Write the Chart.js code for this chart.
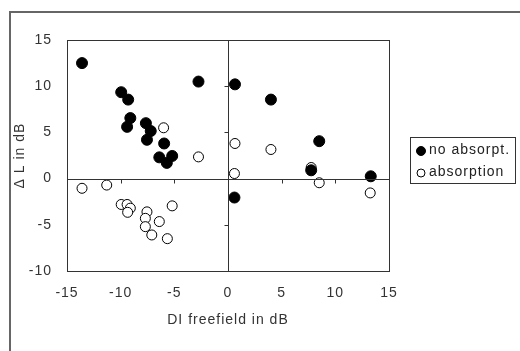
<!DOCTYPE html>
<html>
<head>
<meta charset="utf-8">
<script src="https://cdn.jsdelivr.net/npm/chart.js@4/dist/chart.umd.min.js"></script>
<style>
  html, body { margin: 0; padding: 0; background: #fff; }
  canvas { display: block; }
</style>
</head>
<body>
<canvas id="c" width="520" height="351"></canvas>
<script>
// ---- data ----
const seriesLabels = ["no absorpt.", "absorption"];
const noAbsX = [-13.6, -2.75, -9.95, -9.3, -9.1, -9.4, -7.65, -7.2, -7.55, -5.95, -6.4, -5.7, -5.2, 0.65, 4.0, 8.5, 7.75, 13.3, 0.6];
const noAbsY = [12.5, 10.5, 9.35, 8.55, 6.55, 5.6, 6.0, 5.15, 4.2, 3.8, 2.3, 1.7, 2.45, 10.2, 8.55, 4.05, 0.9, 0.25, -2.05];
const absX = [-6.0, -2.75, 0.65, 0.6, -13.6, -11.3, -9.95, -9.4, -9.1, -9.35, -7.55, -7.7, -7.7, -7.1, -6.4, -5.65, -5.2, 4.0, 7.75, 8.5, 13.25];
const absY = [5.5, 2.35, 3.8, 0.55, -1.05, -0.7, -2.8, -2.8, -3.2, -3.65, -3.6, -4.3, -5.2, -6.1, -4.65, -6.5, -2.95, 3.15, 1.2, -0.45, -1.55];
const xTicks = [-15, -10, -5, 0, 5, 10, 15];
const yTicks = [-10, -5, 0, 5, 10, 15];
const xTitle = "DI freefield in dB";
const yTitle = "\u0394 L in dB";

const FONT = "'Liberation Sans', Arial, sans-serif";
const TEXT = "#333";

function pts(xs, ys) { return xs.map((x, i) => ({ x: x, y: ys[i] })); }

const spacing = {
  id: 'spacing',
  beforeLayout(chart) { chart.ctx.letterSpacing = '1px'; },
  beforeDraw(chart) { chart.ctx.letterSpacing = '1px'; }
};

const frame = {
  id: 'frame',
  afterDraw(chart) {
    const ctx = chart.ctx, a = chart.chartArea;
    const xs = chart.scales.x, ys = chart.scales.y;
    ctx.save();
    // outer chart border
    ctx.strokeStyle = '#666';
    ctx.lineWidth = 2;
    ctx.strokeRect(10, 12, 1000, 1000);
    // plot area border
    ctx.strokeStyle = '#333';
    ctx.lineWidth = 1;
    ctx.strokeRect(Math.round(a.left) + 0.5, Math.round(a.top) + 0.5, Math.round(a.right - a.left), Math.round(a.bottom - a.top));
    // zero axes
    const x0 = Math.round(xs.getPixelForValue(0)) + 0.5;
    const y0 = Math.round(ys.getPixelForValue(0)) + 0.5;
    ctx.beginPath();
    ctx.moveTo(x0, a.top); ctx.lineTo(x0, a.bottom);
    ctx.moveTo(a.left, y0); ctx.lineTo(a.right, y0);
    // tick marks on the zero axes
    xTicks.forEach(v => {
      if (v === 0 || v === xTicks[0] || v === xTicks[xTicks.length - 1]) return;
      const px = Math.round(xs.getPixelForValue(v)) + 0.5;
      ctx.moveTo(px, y0); ctx.lineTo(px, y0 + 4);
    });
    yTicks.forEach(v => {
      if (v === 0 || v === yTicks[0] || v === yTicks[yTicks.length - 1]) return;
      const py = Math.round(ys.getPixelForValue(v)) + 0.5;
      ctx.moveTo(x0, py); ctx.lineTo(x0 - 4, py);
    });
    ctx.stroke();

    // legend box
    const L = 410.5, T = 137.5, W = 105, H = 46;
    ctx.strokeStyle = '#333';
    ctx.strokeRect(L, T, W, H);
    const ds = chart.data.datasets;
    const rows = [151, 173];
    ds.forEach((d, i) => {
      ctx.beginPath();
      ctx.arc(421, rows[i], i === 0 ? 4.5 : 4, 0, Math.PI * 2);
      ctx.fillStyle = d.backgroundColor;
      ctx.fill();
      ctx.lineWidth = 1;
      ctx.strokeStyle = d.borderColor;
      ctx.stroke();
      ctx.fillStyle = '#222';
      ctx.font = "14px " + FONT;
      ctx.textBaseline = 'middle';
      ctx.textAlign = 'left';
      ctx.fillText(d.label, 429, rows[i] - 1);
    });
    ctx.restore();
  }
};

new Chart(document.getElementById('c'), {
  type: 'scatter',
  data: {
    datasets: [
      { label: seriesLabels[0], data: pts(noAbsX, noAbsY), backgroundColor: '#000', borderColor: '#000', borderWidth: 1, pointRadius: 5.5, pointHoverRadius: 5.5 },
      { label: seriesLabels[1], data: pts(absX, absY), backgroundColor: '#fff', borderColor: '#000', borderWidth: 1, pointRadius: 5, pointHoverRadius: 5 }
    ]
  },
  options: {
    responsive: false,
    animation: false,
    devicePixelRatio: 1,
    layout: { padding: { left: 10, right: 131, top: 40, bottom: 0 } },
    plugins: { legend: { display: false }, tooltip: { enabled: false } },
    scales: {
      x: {
        type: 'linear', min: xTicks[0], max: xTicks[xTicks.length - 1],
        afterFit(s) { s.height = 80; },
        afterBuildTicks(s) { s.ticks = xTicks.map(v => ({ value: v })); },
        grid: { display: false, drawTicks: false },
        border: { display: false },
        ticks: { autoSkip: false, maxRotation: 0, padding: 14, color: TEXT, font: { family: FONT, size: 14 } },
        title: { display: true, text: xTitle, color: TEXT, font: { family: FONT, size: 14 }, padding: { top: 4, bottom: 22 } }
      },
      y: {
        type: 'linear', min: yTicks[0], max: yTicks[yTicks.length - 1],
        afterFit(s) { s.width = 57; },
        afterBuildTicks(s) { s.ticks = yTicks.map(v => ({ value: v })); },
        grid: { display: false, drawTicks: false },
        border: { display: false },
        ticks: { autoSkip: false, padding: 15, color: TEXT, font: { family: FONT, size: 14 } },
        title: { display: true, text: yTitle, color: TEXT, font: { family: FONT, size: 14 }, padding: { top: 2, bottom: 0 } }
      }
    }
  },
  plugins: [spacing, frame]
});
</script>
</body>
</html>
